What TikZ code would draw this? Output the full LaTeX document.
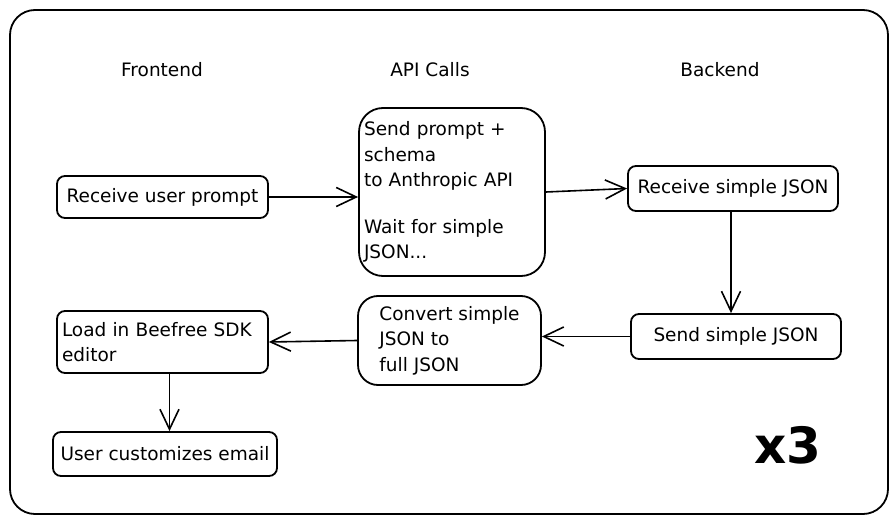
\documentclass[tikz,border=0pt]{standalone}
\usepackage{fontspec}
\setmainfont{DejaVu Sans}
\usetikzlibrary{arrows.meta}
\begin{document}
\begin{tikzpicture}[x=1pt,y=-1pt,
  txt/.style={font=\fontsize{18.5}{25.5}\selectfont},
  box/.style={draw, line width=1.8pt, rounded corners=8pt, inner sep=0pt, txt, align=left},
  head/.style={txt},
  conn/.style={line width=1.6pt, -{Straight Barb[length=20pt,width=19pt,line width=1.6pt]}}
]
\useasboundingbox (0,0) rectangle (896,524);
\draw[line width=1.8pt, rounded corners=25pt] (10,10) rectangle (888,514);

\node[head] (hf) at (162,70) {Frontend};
\node[head] (ha) at (430,70) {API Calls};
\node[head] (hb) at (720,70) {Backend};

\node[box, minimum width=211pt, minimum height=42pt] (rup) at (162.5,197) {Receive user prompt};
\node[box, minimum width=186pt, minimum height=168pt, rounded corners=24pt, text width=176pt] (sp) at (452,192)
  {Send prompt +\\schema\\to Anthropic API\\[21pt]Wait for simple\\JSON...};
\node[box, minimum width=210pt, minimum height=45pt] (rsj) at (733,188.5) {Receive simple JSON};
\node[box, minimum width=210pt, minimum height=45pt] (ssj) at (736,336.5) {Send simple JSON};
\node[box, minimum width=183pt, minimum height=89pt, rounded corners=20pt] (conv) at (449.5,340.5)
  {Convert simple\\JSON to\\full JSON};
\node[box, minimum width=211pt, minimum height=62pt, text width=201pt] (load) at (162.5,342)
  {Load in Beefree SDK\\editor};
\node[box, minimum width=224pt, minimum height=44pt] (uce) at (165,454) {User customizes email};

\node[font=\fontsize{50}{50}\selectfont\bfseries] (x3) at (788,445) {x3};

\draw[conn] (rup.east) -- (rup.east -| sp.west);
\draw[conn] (sp.east) -- (rsj.west);
\draw[conn] ([xshift=-2pt]rsj.south) -- ([xshift=-2pt]rsj.south |- ssj.north);
\draw[conn] (ssj.west) -- (ssj.west -| conv.east);
\draw[conn] (conv.west) -- (load.east);
\draw[conn] ([xshift=7pt]load.south) -- ([xshift=7pt]load.south |- uce.north);
\end{tikzpicture}
\end{document}
